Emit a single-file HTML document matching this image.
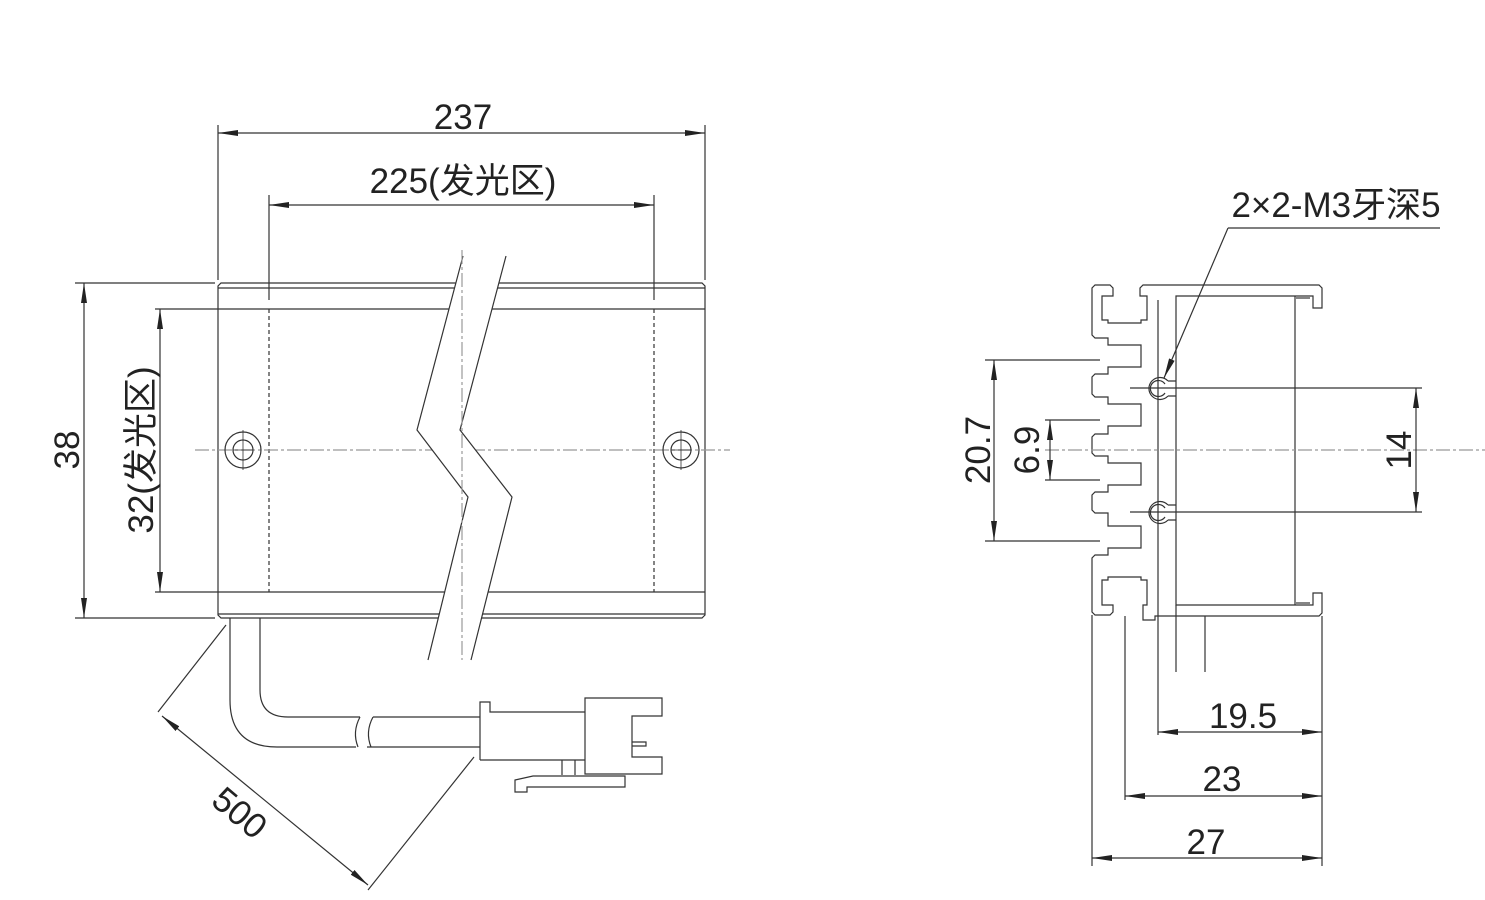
<!DOCTYPE html>
<html><head><meta charset="utf-8"><style>
body{margin:0;background:#fff}
svg{display:block}
text{font-family:"Liberation Sans","Noto Sans CJK SC",sans-serif;fill:#222;font-size:35px}
</style></head><body>
<svg width="1485" height="900" viewBox="0 0 1485 900" xmlns="http://www.w3.org/2000/svg">
<defs>
<marker id="a" viewBox="0 0 20 6" refX="20" refY="3" markerWidth="20" markerHeight="6" markerUnits="userSpaceOnUse" orient="auto-start-reverse"><path d="M0,0L20,3L0,6z" fill="#222"/></marker>
</defs>
<g stroke="#333" stroke-width="1.2" fill="none">
<!-- LEFT VIEW -->
<path d="M221,283H702l3,3V615l-3,3H221l-3,-3V286z"/>
<line x1="218" y1="288" x2="705" y2="288"/>
<line x1="218" y1="614" x2="705" y2="614"/>
<line x1="155" y1="309" x2="705" y2="309"/>
<line x1="155" y1="592" x2="705" y2="592"/>
<line x1="269" y1="309" x2="269" y2="592" stroke-dasharray="4,3"/>
<line x1="654" y1="309" x2="654" y2="592" stroke-dasharray="4,3"/>
<line x1="269" y1="195" x2="269" y2="300"/>
<line x1="654" y1="195" x2="654" y2="300"/>
<line x1="218" y1="125" x2="218" y2="280"/>
<line x1="705" y1="125" x2="705" y2="280"/>
<line x1="75" y1="283" x2="215" y2="283"/>
<line x1="75" y1="618" x2="215" y2="618"/>
<line x1="195" y1="450" x2="730" y2="450" stroke="#999" stroke-dasharray="14,3,3,3"/>
<circle cx="243" cy="450" r="18"/><circle cx="243" cy="450" r="10"/>
<circle cx="681" cy="450" r="18"/><circle cx="681" cy="450" r="10"/>
<path d="M243,430v40M233,450h20M681,430v40M671,450h20" stroke-width="0.8"/>
<!-- break -->
<polygon points="463,256 417,430 468,497 428,660 471,660 512,497 460,430 506,256" fill="#fff" stroke="none"/>
<polyline points="463,256 417,430 468,497 428,660"/>
<polyline points="506,256 460,430 512,497 471,660"/>
<line x1="462" y1="250" x2="462" y2="660" stroke="#999" stroke-dasharray="14,3,3,3"/>
<!-- cable -->
<path d="M230,618V700q0,47 47,47H356M260,618V690q0,27 28,27H360"/>
<path d="M373,717H480M367,747H480"/>
<path d="M360,717q-8,15 -2,30M373,717q-8,15 -2,30"/>
<path d="M480,760V702h10v10H585"/>
<path d="M480,760H585"/>
<path d="M585,698H662V716H632V757H662V774H585z"/>
<path d="M632,742H646V746H632"/>
<path d="M562,760v15M575,760v15"/>
<path d="M515,792V780l18,-4H625V787H527V792z"/>
<!-- dims left -->
<line x1="218" y1="133" x2="705" y2="133" marker-start="url(#a)" marker-end="url(#a)"/>
<line x1="269" y1="205" x2="654" y2="205" marker-start="url(#a)" marker-end="url(#a)"/>
<line x1="84" y1="283" x2="84" y2="618" marker-start="url(#a)" marker-end="url(#a)"/>
<line x1="160" y1="309" x2="160" y2="592" marker-start="url(#a)" marker-end="url(#a)"/>
<line x1="226" y1="625" x2="158" y2="712"/>
<line x1="474" y1="757" x2="368" y2="890"/>
<line x1="162" y1="716" x2="368" y2="885" marker-start="url(#a)" marker-end="url(#a)"/>
<!-- RIGHT VIEW -->
<path d="M1095,285H1110l3,3V296H1102V320H1108V323H1141V320H1147V296H1140V288l3,-3H1319l3,3V308H1313V296H1176V605H1313V593H1322V613l-3,3H1155V620H1143V605H1147V580H1141V577H1108V580H1102V605H1113V612l-3,3H1095l-3,-3V558l3,-3H1108V548H1141V526H1108V513H1095l-3,-3V495l3,-3H1108V485H1141V463H1108V456H1095l-3,-3V437l3,-3H1108V426H1141V404H1108V397H1095l-3,-3V377l3,-3H1108V367H1141V345H1108V338H1095l-3,-3V288z"/>
<line x1="1295" y1="296" x2="1295" y2="605"/>
<line x1="1296" y1="298" x2="1310" y2="298"/>
<line x1="1296" y1="603" x2="1310" y2="603"/>
<line x1="1158" y1="300" x2="1158" y2="735"/>
<line x1="1176" y1="605" x2="1176" y2="672"/>
<line x1="1205" y1="616" x2="1205" y2="672"/>
<line x1="1092" y1="615" x2="1092" y2="866"/>
<line x1="1125" y1="616" x2="1125" y2="800"/>
<line x1="1322" y1="616" x2="1322" y2="866"/>
<path d="M1168,381a11,11 0 1,0 0,15M1165,384a8,8 0 1,0 0,9M1168,381h8M1168,396h8"/>
<path d="M1168,505a11,11 0 1,0 0,15M1165,508a8,8 0 1,0 0,9M1168,505h8M1168,520h8"/>
<line x1="1130" y1="388" x2="1422" y2="388"/>
<line x1="1130" y1="512" x2="1422" y2="512"/>
<line x1="1045" y1="450" x2="1485" y2="450" stroke="#999" stroke-dasharray="14,3,3,3"/>
<line x1="985" y1="360" x2="1100" y2="360"/>
<line x1="985" y1="541" x2="1100" y2="541"/>
<line x1="1045" y1="420" x2="1100" y2="420"/>
<line x1="1045" y1="480" x2="1100" y2="480"/>
<line x1="994" y1="360" x2="994" y2="541" marker-start="url(#a)" marker-end="url(#a)"/>
<line x1="1050" y1="420" x2="1050" y2="480" marker-start="url(#a)" marker-end="url(#a)"/>
<line x1="1416" y1="388" x2="1416" y2="512" marker-start="url(#a)" marker-end="url(#a)"/>
<line x1="1158" y1="732" x2="1322" y2="732" marker-start="url(#a)" marker-end="url(#a)"/>
<line x1="1125" y1="796" x2="1322" y2="796" marker-start="url(#a)" marker-end="url(#a)"/>
<line x1="1092" y1="858" x2="1322" y2="858" marker-start="url(#a)" marker-end="url(#a)"/>
<line x1="1228" y1="228" x2="1440" y2="228"/>
<line x1="1228" y1="228" x2="1164" y2="378" marker-end="url(#a)"/>
</g>
<text x="463" y="129" text-anchor="middle">237</text>
<text x="463" y="193" text-anchor="middle">225(发光区)</text>
<text x="1336" y="217" text-anchor="middle">2×2-M3牙深5</text>
<text transform="translate(79,450) rotate(-90)" text-anchor="middle">38</text>
<text transform="translate(153,450) rotate(-90)" text-anchor="middle">32(发光区)</text>
<text transform="translate(232,822) rotate(40)" text-anchor="middle">500</text>
<text transform="translate(990,450) rotate(-90)" text-anchor="middle">20.7</text>
<text transform="translate(1039,450) rotate(-90)" text-anchor="middle">6.9</text>
<text transform="translate(1411,450) rotate(-90)" text-anchor="middle">14</text>
<text x="1243" y="728" text-anchor="middle">19.5</text>
<text x="1222" y="791" text-anchor="middle">23</text>
<text x="1206" y="854" text-anchor="middle">27</text>
</svg>
</body></html>
